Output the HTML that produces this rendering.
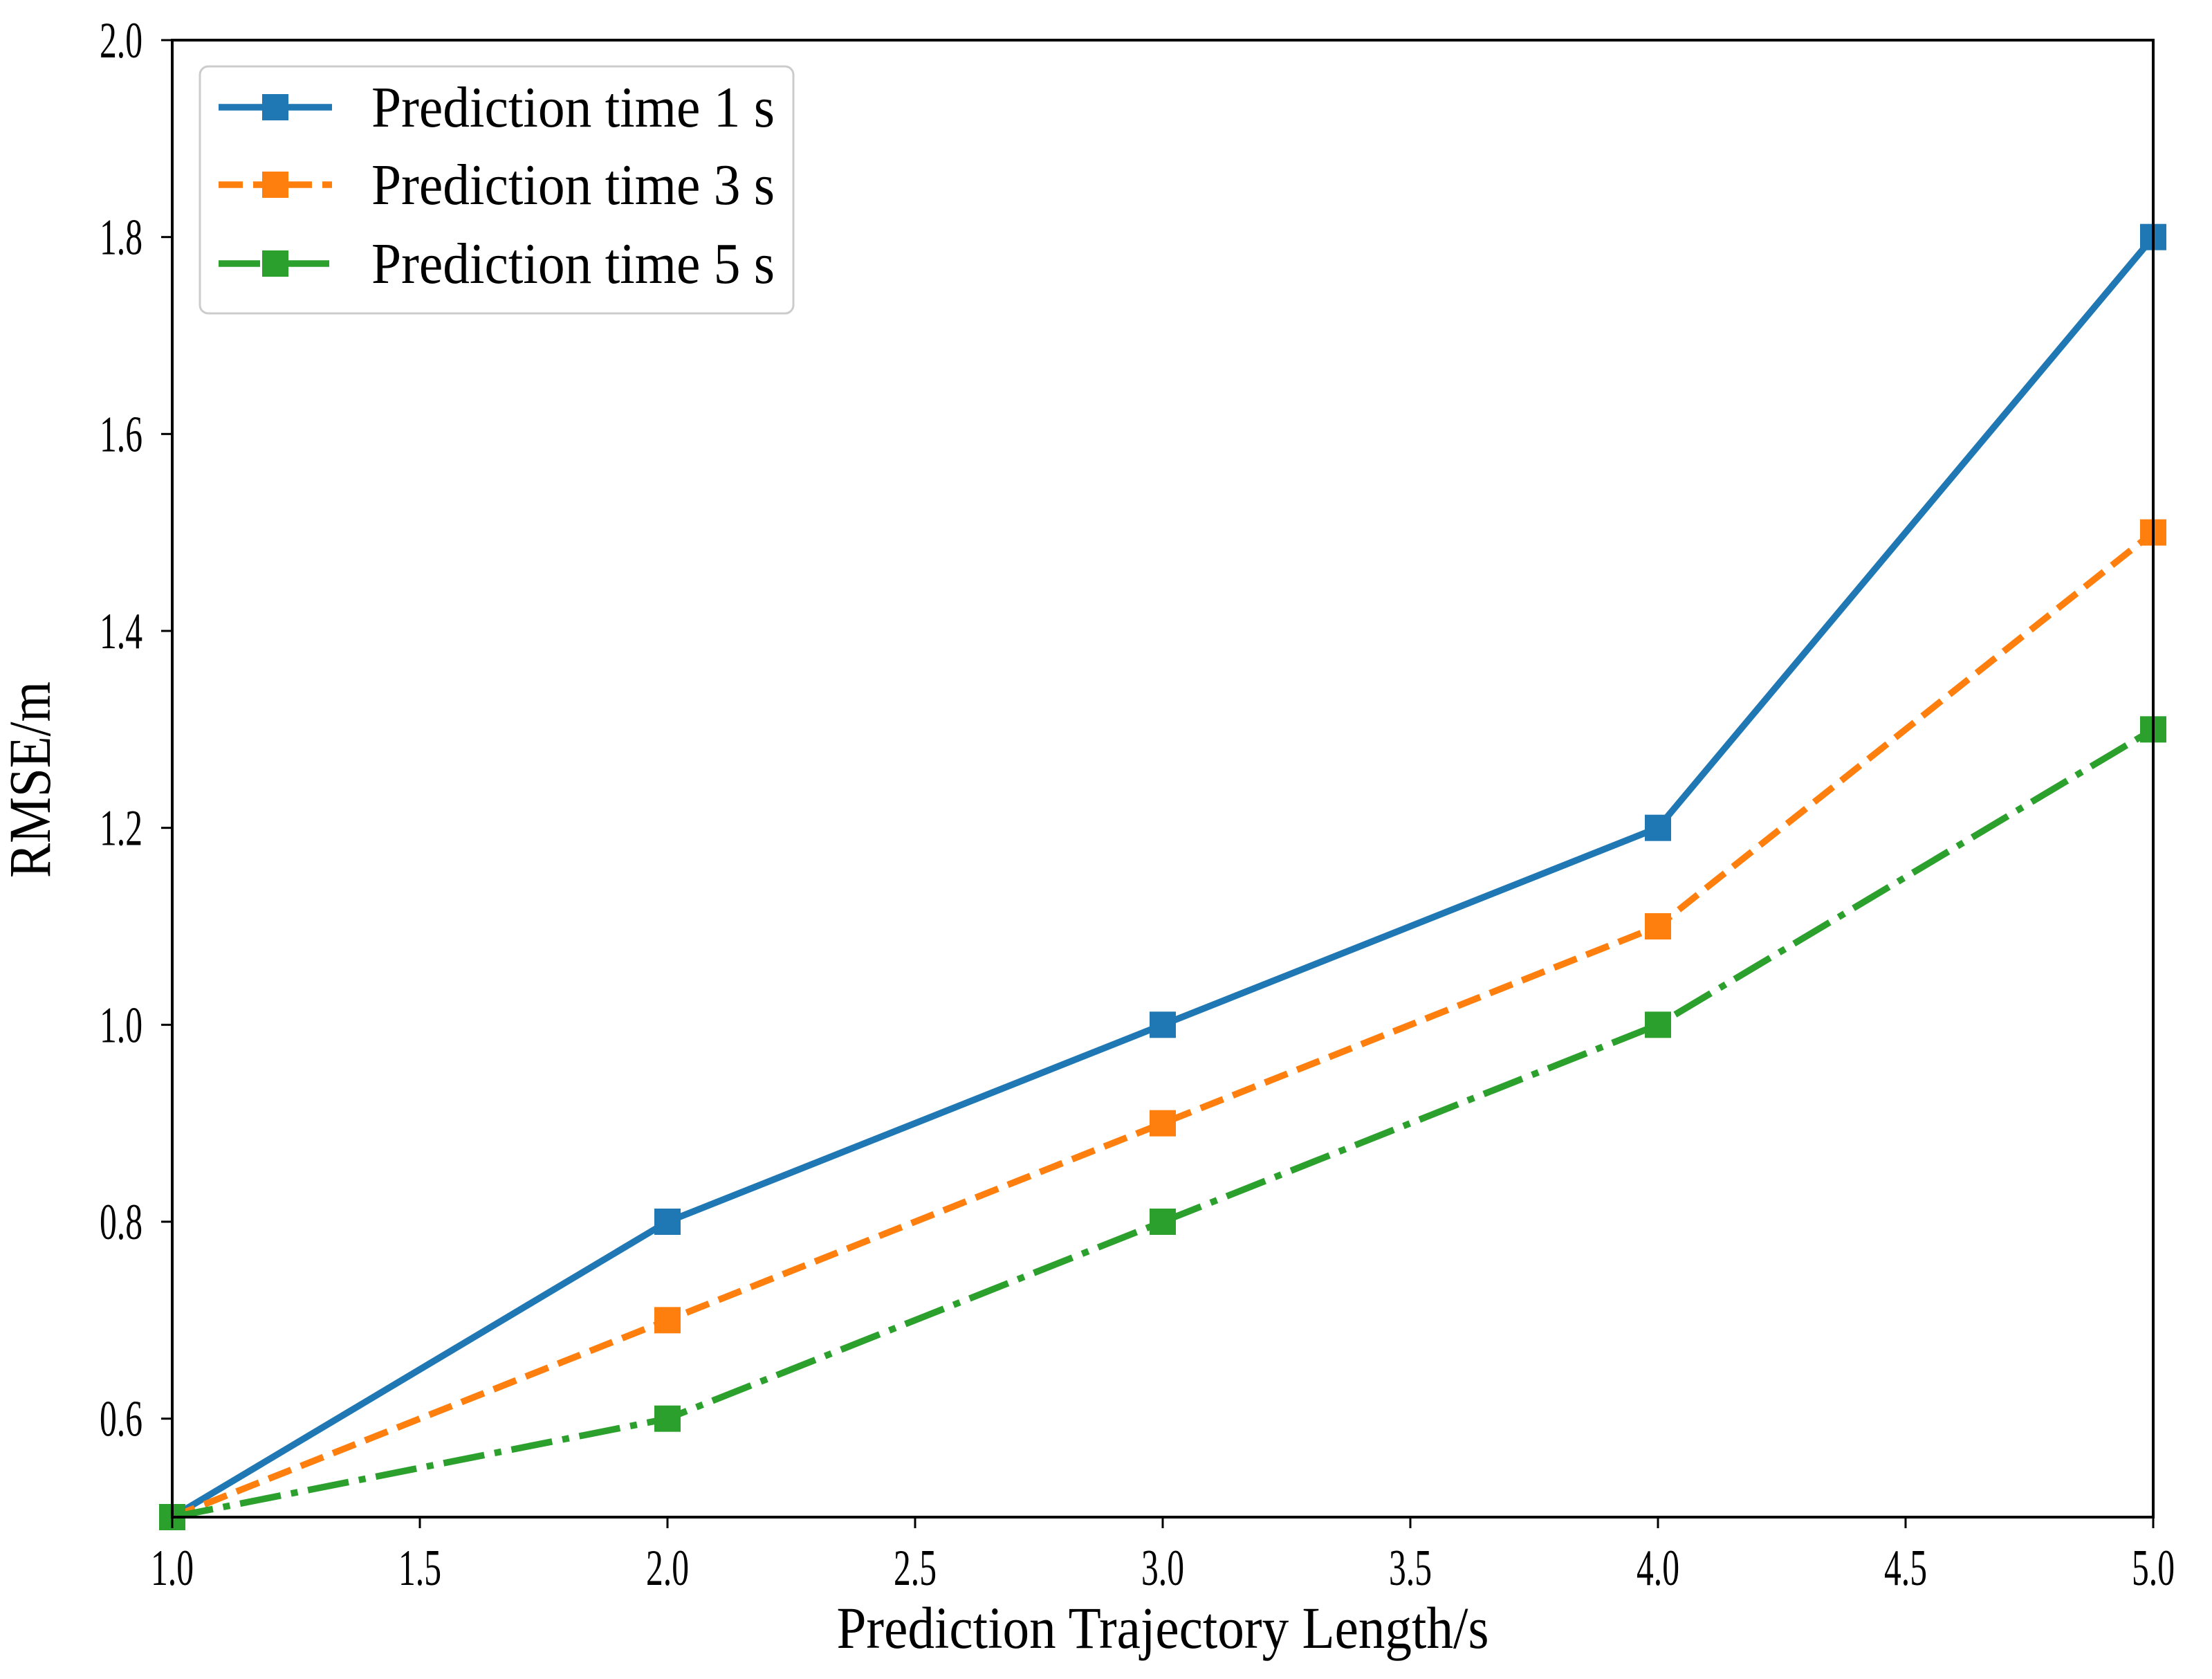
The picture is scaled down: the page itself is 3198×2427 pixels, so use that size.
<!DOCTYPE html>
<html><head><meta charset="utf-8"><style>
html,body{margin:0;padding:0;background:#fff;}
svg{display:block;font-family:"Liberation Serif",serif;}
</style></head><body>
<svg id="chart" width="3198" height="2427" viewBox="0 0 3198 2427" xmlns="http://www.w3.org/2000/svg">
<rect width="3198" height="2427" fill="#fff"/>
<g id="series"></g>
<rect x="249" y="58" width="2864" height="2135" fill="none" stroke="#000" stroke-width="4"/>
<g id="ticks"></g>
<text x="1681" y="2382" font-size="86" text-anchor="middle" textLength="943" lengthAdjust="spacingAndGlyphs">Prediction Trajectory Length/s</text>
<text transform="translate(72,1127) rotate(-90)" font-size="86" text-anchor="middle" textLength="284" lengthAdjust="spacingAndGlyphs">RMSE/m</text>
<g id="legend"></g>
</svg>
<script>
const xValues = [1, 2, 3, 4, 5];
const series1 = [0.5, 0.8, 1.0, 1.2, 1.8];
const series3 = [0.5, 0.7, 0.9, 1.1, 1.5];
const series5 = [0.5, 0.6, 0.8, 1.0, 1.3];
const seriesLabels = ["Prediction time 1 s", "Prediction time 3 s", "Prediction time 5 s"];
const xTicks = [1.0, 1.5, 2.0, 2.5, 3.0, 3.5, 4.0, 4.5, 5.0];
const yTicks = [0.6, 0.8, 1.0, 1.2, 1.4, 1.6, 1.8, 2.0];

const NS = "http://www.w3.org/2000/svg";
const L = 249, R = 3113, T = 58, B = 2193;
const xMin = 1, xMax = 5, yMin = 0.5, yMax = 2.0;
const sx = v => L + (v - xMin) / (xMax - xMin) * (R - L);
const sy = v => B - (v - yMin) / (yMax - yMin) * (B - T);
function mk(tag, attrs, parent){const e=document.createElementNS(NS,tag);for(const k in attrs)e.setAttribute(k,attrs[k]);parent.appendChild(e);return e;}

const ticks = document.getElementById('ticks');
xTicks.forEach(v=>{
  const l = mk('line',{x1:sx(v),x2:sx(v),y1:B,y2:B+16,stroke:'#000','stroke-width':3},ticks);
  
  
  const t = mk('text',{x:sx(v),y:2291,'font-size':74,'text-anchor':'middle',textLength:62,lengthAdjust:'spacingAndGlyphs'},ticks);
  
  
  t.textContent=v.toFixed(1);
});
yTicks.forEach(v=>{
  const l = mk('line',{x1:L-16,x2:L,y1:sy(v),y2:sy(v),stroke:'#000','stroke-width':3},ticks);
  
  
  const t = mk('text',{x:206,y:sy(v)+25,'font-size':74,'text-anchor':'end',textLength:62,lengthAdjust:'spacingAndGlyphs'},ticks);
  
  
  t.textContent=v.toFixed(1);
});

const styles = [
  {color:'#1f77b4', dash:'none', data:series1, name:'series-1s'},
  {color:'#ff7f0e', dash:'35 15', data:series3, name:'series-3s'},
  {color:'#2ca02c', dash:'60 15 10 15', data:series5, name:'series-5s'}
];
const sg = document.getElementById('series');
styles.forEach(s=>{
  const g = mk('g',{},sg);
  
  
  const pts = s.data.map((v,i)=>sx(xValues[i])+','+sy(v)).join(' ');
  const pl = mk('polyline',{points:pts,fill:'none',stroke:s.color,'stroke-width':9.5,'stroke-dasharray':s.dash},g);
  
  
  s.data.forEach((v,i)=>{
    const m = mk('rect',{x:sx(xValues[i])-19,y:sy(v)-19,width:38,height:38,fill:s.color},g);
    
    
  });
});

const lg = document.getElementById('legend');
const box = mk('rect',{x:289,y:96,width:858,height:357,rx:12,fill:'#fff','fill-opacity':0.8,stroke:'#ccc','stroke-width':3},lg);


const rowsY = [155, 267, 381];
styles.forEach((s,i)=>{
  const g = mk('g',{},lg);
  
  
  mk('line',{x1:316,x2:480,y1:rowsY[i],y2:rowsY[i],stroke:s.color,'stroke-width':9.5,'stroke-dasharray':s.dash},g);
  mk('rect',{x:379,y:rowsY[i]-19,width:38,height:38,fill:s.color},g);
  const t = mk('text',{x:537,y:rowsY[i]+28,'font-size':84,textLength:583,lengthAdjust:'spacingAndGlyphs'},g);
  
  
  t.textContent = seriesLabels[i];
});
</script>
</body></html>
